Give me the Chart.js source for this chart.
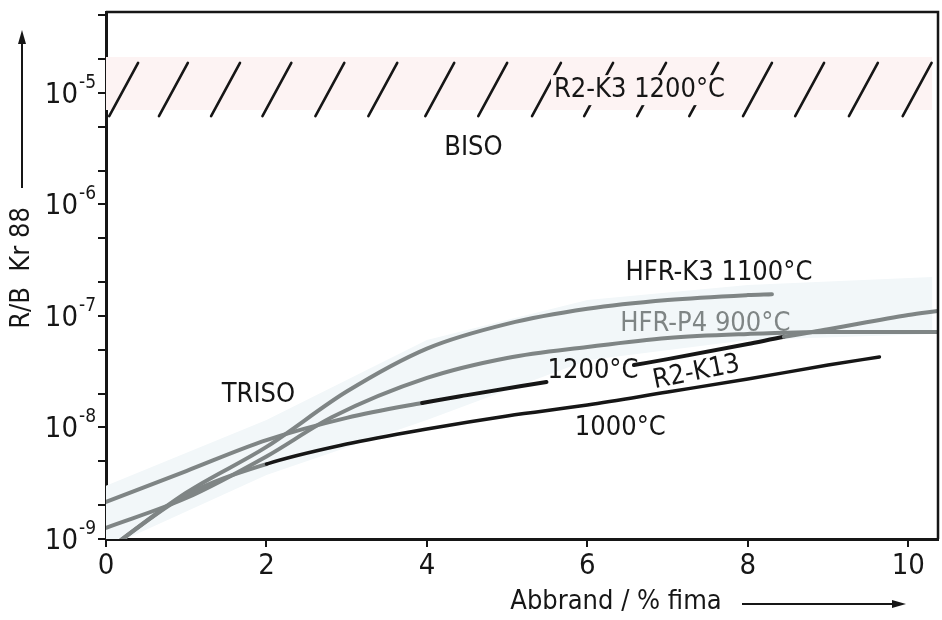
<!DOCTYPE html>
<html>
<head>
<meta charset="utf-8">
<script src="https://cdn.jsdelivr.net/npm/chart.js@4.4.1/dist/chart.umd.min.js"></script>
<style>
  html, body { margin: 0; padding: 0; background: #fff; }
  #wrap { width: 942px; height: 620px; position: relative; }
</style>
</head>
<body>
<div id="wrap"><canvas id="chart"></canvas></div>
<script>
(() => {
  "use strict";
  const FONT = '"Liberation Sans Narrow", "DejaVu Sans Condensed", "Liberation Sans", sans-serif';
  const INK = "#161616", GRAY = "#7f8585";
  const PINK = "#fdf3f3", ICE = "#f2f7f9";

  // burn-up (% fima) and R/B Kr 88
  const k3X = [0, 1, 2, 3, 4, 5, 6, 7, 8, 8.3];
  const k3Y = [7.8e-10, 2.6e-9, 6.7e-9, 2.1e-8, 5.1e-8, 8.5e-8, 1.16e-7, 1.39e-7, 1.54e-7, 1.57e-7];

  const p4X = [0, 1, 2, 2.82, 4, 5, 6, 7, 8, 9, 10, 10.37];
  const p4Y = [1.26e-9, 2.33e-9, 5.5e-9, 1.24e-8, 2.78e-8, 4.2e-8, 5.27e-8, 6.35e-8, 6.9e-8, 7.2e-8, 7.2e-8, 7.2e-8];

  const k13X = [0, 1, 2, 3, 3.94, 4.5, 5.49, 6, 6.58, 7, 8, 8.45, 9, 10, 10.37];
  const k13Y = [2.15e-9, 4.07e-9, 7.7e-9, 1.22e-8, 1.66e-8, 1.95e-8, 2.56e-8, null, 3.63e-8, 4.1e-8, 5.6e-8, 6.5e-8, 7.6e-8, 1.02e-7, 1.11e-7];
  const k13Black = [3.94, 8.45];   // part of R2-K13 drawn black

  const c1000X = [0, 1, 2, 3, 4, 5, 6, 7, 8, 9, 9.64];
  const c1000Y = [7.8e-10, 2.48e-9, 4.7e-9, 7.1e-9, 9.7e-9, 1.27e-8, 1.59e-8, 2.08e-8, 2.72e-8, 3.63e-8, 4.29e-8];
  const c1000Black = 2;

  // shaded TRISO scatter band
  const trisoX = [0, 2, 4, 6, 8, 10.3];
  const trisoHi = [3.0e-9, 1.17e-8, 6.1e-8, 1.39e-7, 1.9e-7, 2.24e-7];
  const trisoLo = [8.3e-10, 3.75e-9, 1.17e-8, 4.0e-8, 6.1e-8, 6.9e-8];

  // hatched BISO band (R2-K3)
  const bisoX = [0, 10.3];
  const bisoHi = [2.1e-5, 2.1e-5];
  const bisoLo = [7.05e-6, 7.05e-6];
  const hatchX = [0.04, 0.66, 1.31, 1.95, 2.61, 3.27, 3.98, 4.64, 5.31, 5.96, 6.62, 7.27, 7.94, 8.59, 9.26, 9.93];
  const hatchLo = 6.2e-6, hatchHi = 1.86e-5, hatchDx = 0.36;

  const xTicks = [0, 2, 4, 6, 8, 10];
  const yTicks = [1e-9, 2e-9, 5e-9, 1e-8, 2e-8, 5e-8, 1e-7, 2e-7, 5e-7, 1e-6, 2e-6, 5e-6, 1e-5, 2e-5, 5e-5];
  const yDecades = [1e-9, 1e-8, 1e-7, 1e-6, 1e-5];
  const yExp = ["-9", "-8", "-7", "-6", "-5"];

  const notes = [
    { t: "R2-K3 1200°C", x: 6.65, y: 1.06e-5, box: true },
    { t: "BISO", x: 4.58, y: 3.2e-6 },
    { t: "TRISO", x: 1.9, y: 1.95e-8 },
    { t: "HFR-K3 1100°C", x: 7.64, y: 2.43e-7 },
    { t: "HFR-P4 900°C", x: 7.47, y: 8.5e-8, c: GRAY },
    { t: "1200°C", x: 6.07, y: 3.2e-8 },
    { t: "R2-K13", x: 7.36, y: 3.1e-8, rot: -0.2 },
    { t: "1000°C", x: 6.41, y: 9.9e-9 },
  ];

  const pts = (xs, ys) => xs.map((x, i) => ({ x, y: ys[i] }));
  const line = (data, color, w) => ({
    data, borderColor: color, borderWidth: w, pointRadius: 0, fill: false,
    cubicInterpolationMode: "monotone", borderCapStyle: "round", borderJoinStyle: "round",
  });

  const datasets = [
    Object.assign(line(pts(c1000X, c1000Y), INK, 3.5), {
      segment: { borderColor: (c) => (c.p0.parsed.x < c1000Black ? GRAY : INK),
                 borderWidth: (c) => (c.p0.parsed.x < c1000Black ? 4 : 3.5) } }),
    Object.assign(line(pts(k13X, k13Y), GRAY, 4), {
      segment: { borderColor: (c) => (c.p0.parsed.x >= k13Black[0] && c.p1.parsed.x <= k13Black[1] ? INK : GRAY) } }),
    line(pts(k3X, k3Y), GRAY, 4),
    line(pts(p4X, p4Y), GRAY, 4),
    { data: pts(trisoX, trisoHi), borderWidth: 0, pointRadius: 0, fill: false },
    { data: pts(trisoX, trisoLo), borderWidth: 0, pointRadius: 0, fill: "-1", backgroundColor: ICE },
    { data: pts(bisoX, bisoHi), borderWidth: 0, pointRadius: 0, fill: false, tension: 0 },
    { data: pts(bisoX, bisoLo), borderWidth: 0, pointRadius: 0, fill: "-1", backgroundColor: PINK, tension: 0 },
  ];

  const decor = {
    id: "decor",
    afterDatasetsDraw(chart) {
      const { ctx, chartArea: a, scales: { x, y } } = chart;
      ctx.save();
      // hatch
      ctx.beginPath();
      ctx.rect(a.left, a.top, a.right - a.left, a.bottom - a.top);
      ctx.clip();
      ctx.strokeStyle = INK; ctx.lineWidth = 2.6; ctx.lineCap = "round";
      for (const hx of hatchX) {
        ctx.beginPath();
        ctx.moveTo(x.getPixelForValue(hx), y.getPixelForValue(hatchLo));
        ctx.lineTo(x.getPixelForValue(hx + hatchDx), y.getPixelForValue(hatchHi));
        ctx.stroke();
      }
      ctx.restore();
      // labels
      ctx.save();
      ctx.font = `27px ${FONT}`;
      ctx.textAlign = "center"; ctx.textBaseline = "middle";
      for (const n of notes) {
        const px = x.getPixelForValue(n.x), py = y.getPixelForValue(n.y);
        if (n.box) {
          const w = ctx.measureText(n.t).width + 6;
          ctx.fillStyle = PINK;
          ctx.fillRect(px - w / 2, py - 15, w, 30);
        }
        ctx.save();
        ctx.translate(px, py);
        if (n.rot) ctx.rotate(n.rot);
        ctx.fillStyle = n.c || INK;
        ctx.fillText(n.t, 0, 0);
        ctx.restore();
      }
      ctx.restore();
      // frame top/right
      ctx.save();
      ctx.strokeStyle = INK; ctx.lineWidth = 2.5;
      ctx.beginPath();
      ctx.moveTo(a.left, a.top); ctx.lineTo(a.right, a.top); ctx.lineTo(a.right, a.bottom);
      ctx.stroke();
      // y decade labels with exponent
      ctx.fillStyle = INK; ctx.textBaseline = "alphabetic";
      yDecades.forEach((v, i) => {
        const py = y.getPixelForValue(v);
        ctx.font = `29px ${FONT}`;
        ctx.textAlign = "right";
        ctx.fillText("10", 78, py + 10);
        ctx.font = `19px ${FONT}`;
        ctx.textAlign = "left";
        ctx.fillText(yExp[i], 79, py - 5);
      });
      // axis titles with arrows
      ctx.font = `27px ${FONT}`;
      ctx.save();
      ctx.translate(22, 268); ctx.rotate(-Math.PI / 2);
      ctx.textAlign = "center"; ctx.textBaseline = "middle";
      ctx.fillText("R/B  Kr 88", 0, 0);
      ctx.restore();
      ctx.lineWidth = 2;
      ctx.beginPath(); ctx.moveTo(22, 188); ctx.lineTo(22, 40); ctx.stroke();
      ctx.beginPath(); ctx.moveTo(22, 30); ctx.lineTo(18, 44); ctx.lineTo(26, 44); ctx.closePath(); ctx.fill();
      ctx.textAlign = "center"; ctx.textBaseline = "middle";
      ctx.fillText("Abbrand / % fima", 616, 602);
      ctx.beginPath(); ctx.moveTo(742, 604); ctx.lineTo(895, 604); ctx.stroke();
      ctx.beginPath(); ctx.moveTo(906, 604); ctx.lineTo(892, 600); ctx.lineTo(892, 608); ctx.closePath(); ctx.fill();
      ctx.restore();
    },
  };

  new Chart(document.getElementById("chart"), {
    type: "line",
    data: { datasets },
    plugins: [decor],
    options: {
      responsive: true, maintainAspectRatio: false, animation: false,
      layout: { padding: { top: 12, right: 4, left: 0, bottom: 0 } },
      plugins: { legend: { display: false }, tooltip: { enabled: false } },
      scales: {
        x: {
          type: "linear", min: 0, max: 10.37,
          afterBuildTicks: (s) => { s.ticks = xTicks.map((v) => ({ value: v })); },
          afterFit: (s) => { s.height = 81; },
          ticks: { color: INK, font: { family: FONT, size: 29 }, padding: 2, maxRotation: 0 },
          grid: { drawOnChartArea: false, drawTicks: true, tickLength: 8, color: INK, lineWidth: 2 },
          border: { display: true, color: INK, width: 3 },
        },
        y: {
          type: "logarithmic", min: 1e-9, max: 5.32e-5,
          afterBuildTicks: (s) => { s.ticks = yTicks.map((v) => ({ value: v })); },
          afterFit: (s) => { s.width = 106; },
          ticks: { display: false },
          grid: { drawOnChartArea: false, drawTicks: true, tickLength: 8, color: INK, lineWidth: 2 },
          border: { display: true, color: INK, width: 3 },
        },
      },
    },
  });
})();
</script>
</body>
</html>
